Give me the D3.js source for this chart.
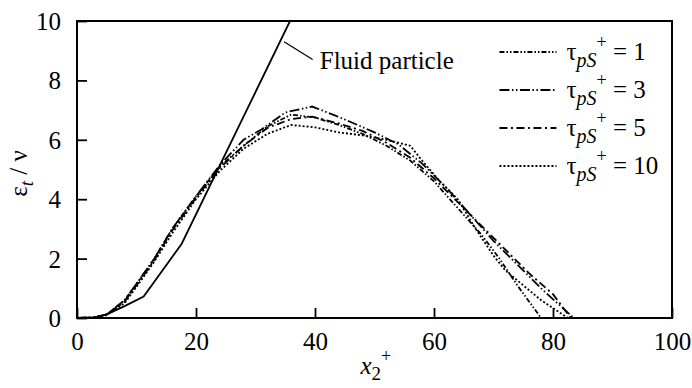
<!DOCTYPE html>
<html>
<head>
<meta charset="utf-8">
<script src="https://cdn.jsdelivr.net/npm/d3@7"></script>
<style>
  body { margin: 0; background: #fff; }
  svg text { font-family: "Liberation Serif", "Times New Roman", Times, "DejaVu Serif", serif; fill: #000; }
</style>
</head>
<body>
<svg class="chart" width="692" height="388"></svg>
<script>
// data
let xTicks = [0, 20, 40, 60, 80, 100];
let yTicks = [0, 2, 4, 6, 8, 10];

let fluidX = [0, 3, 5, 8, 11.2, 17.6, 35.8];
let fluidY = [0, 0.02, 0.12, 0.4, 0.72, 2.5, 10];

let tau1X = [0, 3, 5, 8, 10, 13, 16, 20, 24, 28, 32, 36, 40, 44, 48, 52, 56, 60, 64, 68, 71, 74, 76, 78];
let tau1Y = [0, 0.02, 0.12, 0.6, 1.15, 2.0, 3.0, 4.1, 5.1, 5.8, 6.45, 6.85, 6.75, 6.5, 6.2, 5.8, 5.3, 4.6, 3.7, 2.8, 2.0, 1.1, 0.55, 0];

let tau3X = [0, 3, 5, 8, 10, 13, 16, 20, 24, 28, 31, 35, 39.5, 43, 46, 50, 54, 58, 62, 66, 70, 74, 78, 81, 83.5];
let tau3Y = [0, 0.02, 0.12, 0.6, 1.15, 2.0, 3.0, 4.1, 5.15, 6.0, 6.35, 6.92, 7.12, 6.85, 6.6, 6.25, 5.85, 5.2, 4.4, 3.5, 2.6, 1.8, 1.0, 0.45, 0];

let tau5X = [0, 3, 5, 8, 10, 13, 16, 20, 24, 28, 32, 36, 39.5, 44, 48, 52, 56, 60, 64, 68, 72, 76, 80, 83];
let tau5Y = [0, 0.02, 0.12, 0.55, 1.1, 1.95, 2.95, 4.05, 5.05, 5.8, 6.4, 6.7, 6.78, 6.55, 6.3, 5.9, 5.4, 4.7, 3.9, 3.1, 2.3, 1.5, 0.8, 0];

let tau10X = [0, 3, 5, 8, 10, 13, 16, 20, 24, 28, 32, 36, 40, 44, 48, 52, 56, 58, 61, 64, 67, 70, 72, 75, 78, 82.5];
let tau10Y = [0, 0.02, 0.1, 0.5, 1.05, 1.9, 2.85, 4.0, 4.95, 5.7, 6.2, 6.5, 6.42, 6.25, 6.15, 6.0, 5.8, 5.3, 4.6, 4.0, 3.0, 2.1, 1.6, 1.1, 0.6, 0];

let tauLabels = ["1", "3", "5", "10"];

let series = [
  {label: tauLabels[0], xs: tau1X, ys: tau1Y, dash: "5,2,1.5,2,1.5,2"},
  {label: tauLabels[1], xs: tau3X, ys: tau3Y, dash: "10,2.5,1.5,2.5,1.5,2.5"},
  {label: tauLabels[2], xs: tau5X, ys: tau5Y, dash: "8,3.5,2,3.5"},
  {label: tauLabels[3], xs: tau10X, ys: tau10Y, dash: "2,2"}
];

let margin = {top: 21, right: 20, bottom: 70, left: 77};
let svg = d3.select(".chart");
let width = 692 - margin.left - margin.right;
let height = 388 - margin.top - margin.bottom;

let g = svg.append("g").attr("transform", translate(margin.left, margin.top));

let x = d3.scaleLinear().domain([0, 100]).range([0, width]);
let y = d3.scaleLinear().domain([0, 10]).range([height, 0]);

// clip so the fluid line stops at the frame
g.append("clipPath").attr("id", "clip")
  .append("rect").attr("width", width).attr("height", height);

let line = d3.line()
  .x(function(d) { return x(d[0]); })
  .y(function(d) { return y(d[1]); });

// curves
series.forEach(function(s) {
  g.append("path")
    .attr("d", line(s.xs.map(function(v, i) { return [v, s.ys[i]]; })))
    .attr("clip-path", "url(#clip)")
    .style("fill", "none")
    .style("stroke", "#000")
    .style("stroke-width", 1.8)
    .style("stroke-dasharray", s.dash);
});

g.append("path")
  .attr("d", line(fluidX.map(function(v, i) { return [v, fluidY[i]]; })))
  .attr("clip-path", "url(#clip)")
  .style("fill", "none")
  .style("stroke", "#000")
  .style("stroke-width", 1.8);

// axes, ticks pointing inward
let xAxis = g.append("g")
  .attr("transform", translate(0, height))
  .call(d3.axisBottom(x).tickValues(xTicks).tickSizeInner(-10).tickSizeOuter(0).tickPadding(14));
let yAxis = g.append("g")
  .call(d3.axisLeft(y).tickValues(yTicks).tickSizeInner(-10).tickSizeOuter(0).tickPadding(16));

[xAxis, yAxis].forEach(function(a) {
  a.attr("font-family", null).attr("font-size", null);
  a.select(".domain").remove();
  a.selectAll("line").style("stroke", "#000").style("stroke-width", 1.8);
  a.selectAll("text")
    .style("font-size", "25px")
    .style("fill", "#000");
});
yAxis.selectAll("text").attr("dy", "0.34em");
xAxis.selectAll("text").attr("dy", "0.72em");

// frame
g.append("rect")
  .attr("width", width)
  .attr("height", height)
  .style("fill", "none")
  .style("stroke", "#000")
  .style("stroke-width", 2);

// annotation
g.append("line")
  .attr("x1", x(34.8)).attr("y1", y(9.3))
  .attr("x2", x(39.6)).attr("y2", y(8.7))
  .style("stroke", "#000").style("stroke-width", 1.2);
g.append("text")
  .attr("x", x(40.8)).attr("y", y(8.4))
  .style("font-size", "25px")
  .text("Fluid particle");

// legend
let legend = g.append("g").attr("transform", translate(x(71), 0));
series.forEach(function(s, i) {
  let ly = 31 + i * 38;
  legend.append("line")
    .attr("x1", 0).attr("x2", 57)
    .attr("y1", ly).attr("y2", ly)
    .style("stroke", "#000")
    .style("stroke-width", 1.8)
    .style("stroke-dasharray", s.dash);
  let t = legend.append("text")
    .attr("x", 67).attr("y", ly + 8)
    .style("font-size", "25px");
  t.append("tspan").text("τ");
  t.append("tspan").attr("dy", 7).style("font-style", "italic").style("font-size", "20px").text("pS");
  t.append("tspan").attr("dy", -19).style("font-size", "18px").text("+");
  t.append("tspan").attr("dy", 12).text(" = " + s.label);
});

// axis titles
let xt = svg.append("text")
  .attr("x", margin.left + width / 2 - 14)
  .attr("y", 374)
  .style("font-size", "25px");
xt.append("tspan").style("font-style", "italic").text("x");
xt.append("tspan").attr("dy", 6).style("font-size", "19px").text("2");
xt.append("tspan").attr("dy", -18).style("font-size", "18px").text("+");

let yt = svg.append("text")
  .attr("transform", "translate(27," + (margin.top + height / 2 + 4) + ") rotate(-90)")
  .style("text-anchor", "middle")
  .style("font-size", "25px");
yt.append("tspan").text("ε");
yt.append("tspan").attr("dy", 6).style("font-style", "italic").style("font-size", "19px").text("t");
yt.append("tspan").attr("dy", -6).text(" / ν");

function translate(x, y) {
  return "translate(" + x + "," + y + ")";
}
</script>
</body>
</html>
